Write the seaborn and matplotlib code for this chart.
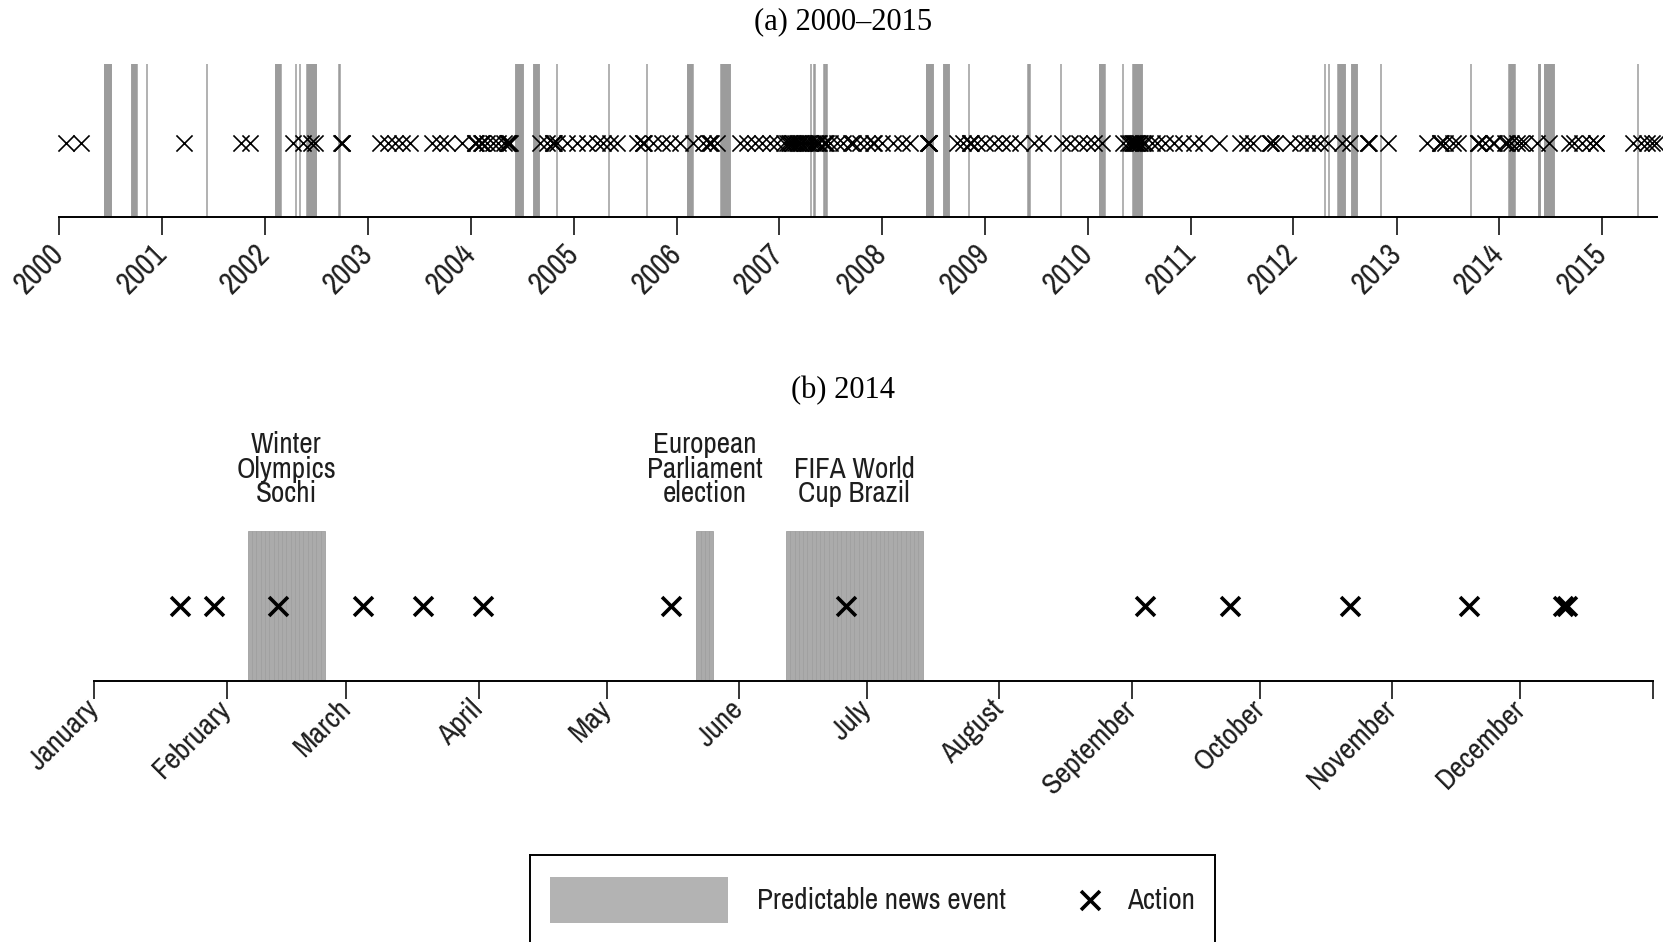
import matplotlib
matplotlib.use("Agg")
import matplotlib.pyplot as plt
import matplotlib.dates as mdates
from matplotlib import font_manager
from matplotlib.font_manager import FontProperties
from matplotlib.patches import Rectangle
import numpy as np
import pandas as pd
import seaborn as sns

# ---------------- data ----------------
# Predictable news events 2000-2015 (first and last day, inclusive)
event_start = [
    "2000-06-10", "2000-09-15", "2000-11-07", "2001-06-07", "2002-02-08",
    "2002-04-21", "2002-05-05", "2002-05-31", "2002-09-22", "2004-06-10",
    "2004-08-13", "2004-11-02", "2005-05-05", "2005-09-18", "2006-02-10",
    "2006-06-09", "2007-04-22", "2007-05-06", "2007-06-10", "2007-06-17",
    "2008-06-07", "2008-08-08", "2008-11-04", "2009-06-04", "2009-09-27",
    "2010-02-12", "2010-05-06", "2010-06-11", "2012-04-22", "2012-05-06",
    "2012-06-08", "2012-07-27", "2012-11-06", "2013-09-22", "2014-02-06",
    "2014-05-22", "2014-06-12", "2015-05-07",
]
event_end = [
    "2000-07-02", "2000-10-01", "2000-11-07", "2001-06-07", "2002-02-24",
    "2002-04-21", "2002-05-05", "2002-06-30", "2002-09-22", "2004-07-04",
    "2004-08-29", "2004-11-02", "2005-05-05", "2005-09-18", "2006-02-26",
    "2006-07-09", "2007-04-22", "2007-05-06", "2007-06-10", "2007-06-17",
    "2008-06-29", "2008-08-24", "2008-11-04", "2009-06-07", "2009-09-27",
    "2010-02-28", "2010-05-06", "2010-07-11", "2012-04-22", "2012-05-06",
    "2012-07-01", "2012-08-12", "2012-11-06", "2013-09-22", "2014-02-23",
    "2014-05-25", "2014-07-13", "2015-05-07",
]

# Events of 2014 with their captions
events_2014_start = ["2014-02-06", "2014-05-22", "2014-06-12"]
events_2014_end = ["2014-02-23", "2014-05-25", "2014-07-13"]
events_2014_label = ["Winter\nOlympics\nSochi",
                     "European\nParliament\nelection",
                     "FIFA World\nCup Brazil"]

# Action dates
actions_2000_2013 = [
    "2000-01-24", "2000-03-17",
    "2001-03-20", "2001-10-09", "2001-11-08",
    "2002-04-11", "2002-05-17", "2002-06-12", "2002-06-27", "2002-09-28",
    "2002-09-30", "2002-10-02",
    "2003-02-13", "2003-03-15", "2003-04-07", "2003-05-01", "2003-05-31",
    "2003-08-17", "2003-09-14", "2003-10-09", "2003-11-30",
    "2004-01-15", "2004-01-17", "2004-01-19", "2004-02-07", "2004-02-09",
    "2004-02-11", "2004-02-27", "2004-03-21", "2004-04-08", "2004-04-27",
    "2004-05-09", "2004-05-11", "2004-05-13", "2004-05-17", "2004-05-21",
    "2004-09-03", "2004-09-27", "2004-10-18", "2004-10-20", "2004-10-22",
    "2004-11-02", "2004-12-07",
    "2005-01-12", "2005-02-16", "2005-03-24", "2005-04-16", "2005-05-10",
    "2005-06-03", "2005-08-13", "2005-09-03", "2005-09-05", "2005-09-07",
    "2005-10-11", "2005-11-10", "2005-12-09",
    "2006-01-14", "2006-03-02", "2006-04-06", "2006-04-28", "2006-04-30",
    "2006-05-02", "2006-05-24", "2006-08-15", "2006-09-08", "2006-10-07",
    "2006-10-31", "2006-11-29", "2006-12-23",
    "2007-01-16", "2007-01-28", "2007-02-04", "2007-02-09", "2007-02-16",
    "2007-02-20", "2007-02-24", "2007-03-04", "2007-03-09", "2007-03-14",
    "2007-03-20", "2007-03-28", "2007-04-05", "2007-04-13", "2007-04-21",
    "2007-05-01", "2007-05-07", "2007-05-14", "2007-05-18", "2007-05-22",
    "2007-06-07", "2007-06-11", "2007-06-15", "2007-07-01", "2007-07-24",
    "2007-08-17", "2007-09-12", "2007-09-18", "2007-10-15", "2007-11-08",
    "2007-11-28", "2007-12-04", "2007-12-30",
    "2008-02-10", "2008-03-11", "2008-04-10", "2008-06-12", "2008-06-13",
    "2008-06-14", "2008-06-15", "2008-06-16", "2008-09-22", "2008-10-16",
    "2008-11-07", "2008-11-09", "2008-11-11", "2008-12-03",
    "2009-01-01", "2009-01-31", "2009-03-01", "2009-03-31", "2009-05-05",
    "2009-06-22", "2009-07-27", "2009-10-01", "2009-10-30", "2009-11-29",
    "2009-12-28",
    "2010-01-21", "2010-02-20", "2010-05-07", "2010-05-25", "2010-05-31",
    "2010-06-06", "2010-06-10", "2010-06-14", "2010-06-18", "2010-06-22",
    "2010-06-26", "2010-07-01", "2010-07-06", "2010-07-14", "2010-07-23",
    "2010-08-16", "2010-09-03", "2010-10-02", "2010-11-01", "2010-12-06",
    "2011-01-11", "2011-02-15", "2011-04-10", "2011-06-26", "2011-07-20",
    "2011-08-12", "2011-10-08", "2011-10-10", "2011-10-12", "2011-10-28",
    "2011-12-20",
    "2012-01-25", "2012-02-18", "2012-03-12", "2012-04-05", "2012-05-04",
    "2012-06-21", "2012-07-20", "2012-09-21", "2012-09-23", "2012-09-25",
    "2012-12-03",
    "2013-04-19", "2013-06-03", "2013-06-05", "2013-06-07", "2013-06-23",
    "2013-07-22", "2013-08-09", "2013-10-17", "2013-10-19", "2013-10-21",
    "2013-11-12", "2013-12-10", "2013-12-14",
]
actions_2014 = [
    "2014-01-21", "2014-01-29", "2014-02-13", "2014-03-05", "2014-03-19",
    "2014-04-02", "2014-05-16", "2014-06-26", "2014-09-04", "2014-09-24",
    "2014-10-22", "2014-11-19", "2014-12-11", "2014-12-12",
]
actions_2015 = ["2015-04-21", "2015-05-20", "2015-06-11", "2015-06-29",
                "2015-07-13"]

year_labels = ["2000", "2001", "2002", "2003", "2004", "2005", "2006", "2007",
               "2008", "2009", "2010", "2011", "2012", "2013", "2014", "2015"]
month_labels = ["January", "February", "March", "April", "May", "June",
                "July", "August", "September", "October", "November",
                "December"]
panel_titles = ["(a) 2000\u20132015", "(b) 2014"]
legend_labels = ["Predictable news event", "Action"]

# ---------------- style ----------------
sns.set_theme(style="white")
plt.rcParams["font.family"] = ["Liberation Sans", "DejaVu Sans"]
SERIF = ["Liberation Serif", "DejaVu Serif"]


def find_narrow_sans():
    """Regular-weight narrow/condensed sans face, if one is installed."""
    entries = font_manager.fontManager.ttflist

    def regular(f):
        return f.style == "normal" and str(f.weight) in ("400", "normal",
                                                         "regular", "book")

    def plain_sans(f):
        return not any(k in f.name for k in ("Serif", "Mono", "Extra",
                                             "Ultra", "Semi", "CJK"))

    tests = [
        lambda f: f.name == "Liberation Sans Narrow",
        lambda f: "Narrow" in f.name and plain_sans(f),
        lambda f: "Condensed" in f.name and plain_sans(f),
        lambda f: str(f.stretch) == "condensed" and plain_sans(f),
    ]
    for test in tests:
        found = sorted(f.fname for f in entries if test(f) and regular(f))
        if found:
            return found[0]
    return None


NARROW = find_narrow_sans()


def sans(size):
    if NARROW is not None:
        return FontProperties(fname=NARROW, size=size)
    # Arial Narrow is ~82% the width of Arial: keep the text widths
    return FontProperties(family=["Liberation Sans", "DejaVu Sans"],
                          size=size * 0.84)


FILL = "#B3B3B3"
TEXT = "#1e1e1e"

W, H = 1663, 942
fig = plt.figure(figsize=(W / 100, H / 100), dpi=100)


def frac_box(x0, y_top, x1, y_bot):
    return [x0 / W, 1 - y_bot / H, (x1 - x0) / W, (y_bot - y_top) / H]


ax_top = fig.add_axes(frac_box(59.3, 64, 1656.7, 216.7))
ax_bot = fig.add_axes(frac_box(94.2, 530.7, 1652.8, 680.7))


def day_bars(ax, starts, ends, face, edge, lw):
    """One bar per day of every event, as in a daily calendar."""
    days = []
    for s, e in zip(starts, ends):
        days.extend(pd.date_range(s, e, freq="D"))
    x = mdates.date2num(pd.DatetimeIndex(days).to_pydatetime())
    ax.bar(x, 1.0, width=1.0, bottom=0, align="edge", color=face,
           edgecolor=edge, linewidth=lw, zorder=1)


def to_num(dates):
    return mdates.date2num(pd.to_datetime(dates).to_pydatetime())


def style_axis(ax, label_size, label_pad):
    for side in ("top", "left", "right"):
        ax.spines[side].set_visible(False)
    ax.spines["bottom"].set_color("black")
    ax.spines["bottom"].set_linewidth(1.4)
    ax.set_ylim(0, 1)
    ax.set_yticks([])
    ax.set_xlabel("")
    ax.set_ylabel("")
    ax.tick_params(axis="x", bottom=True, direction="out", length=13,
                   width=1.1, color="black", pad=label_pad, labelcolor=TEXT)
    for lab in ax.get_xticklabels():
        lab.set_fontproperties(sans(label_size))
        lab.set_rotation(45)
        lab.set_ha("right")
        lab.set_va("center")
        lab.set_rotation_mode("anchor")


# ---------------- (a) 2000-2015 ----------------
day_bars(ax_top, event_start, event_end, FILL, "#9C9C9C", 1.1)
top_actions = pd.DataFrame({
    "date": to_num(actions_2000_2013 + actions_2014 + actions_2015),
    "level": 0.48,
})
sns.scatterplot(data=top_actions, x="date", y="level", marker="x", s=135,
                color="black", linewidth=1.2, ax=ax_top, legend=False,
                clip_on=False, zorder=3)
ax_top.set_xlim(to_num(["2000-01-01"])[0], to_num(["2015-07-14"])[0])
ax_top.set_xticks(to_num(pd.to_datetime(year_labels, format="%Y")))
ax_top.set_xticklabels(year_labels)
style_axis(ax_top, 22, 10)

# ---------------- (b) 2014 ----------------
day_bars(ax_bot, events_2014_start, events_2014_end, "#ABABAB", "#A0A0A0",
         0.6)
bot_actions = pd.DataFrame({"date": to_num(actions_2014), "level": 0.5})
sns.scatterplot(data=bot_actions, x="date", y="level", marker="x", s=185,
                color="black", linewidth=2.6, ax=ax_bot, legend=False,
                zorder=3)
month_starts = pd.date_range("2014-01-01", "2015-01-01", freq="MS")
ax_bot.set_xlim(to_num(["2014-01-01"])[0], to_num(["2015-01-01"])[0])
ax_bot.set_xticks(to_num(month_starts))
ax_bot.set_xticklabels(month_labels + [""])
style_axis(ax_bot, 21.5, 4)

for s, e, lab in zip(events_2014_start, events_2014_end, events_2014_label):
    mid = (to_num([s])[0] + to_num([e])[0] + 1) / 2
    ax_bot.text(mid, 1.158, lab, ha="center", va="bottom",
                fontproperties=sans(21), linespacing=0.88, color=TEXT,
                clip_on=False)

# ---------------- titles ----------------
fig.text(843 / W, 1 - 22 / H, panel_titles[0], ha="center", va="center",
         family=SERIF, fontsize=22, color="black")
fig.text(843 / W, 1 - 391 / H, panel_titles[1], ha="center", va="center",
         family=SERIF, fontsize=22, color="black")

# ---------------- legend ----------------
lax = fig.add_axes(frac_box(529.8, 855, 1214.8, 945))
lax.set_xlim(0, 685)
lax.set_ylim(0, 90)
for sp in lax.spines.values():
    sp.set_visible(True)
    sp.set_color("black")
    sp.set_linewidth(1.4)
lax.add_patch(Rectangle((19.8, 22), 178.6, 46, facecolor=FILL,
                        edgecolor="none"))
lax.text(227, 45, legend_labels[0], ha="left", va="center",
         fontproperties=sans(21), color=TEXT)
sns.scatterplot(x=[560.0], y=[45.0], marker="x", s=185, color="black",
                linewidth=2.6, ax=lax, legend=False)
lax.text(597, 45, legend_labels[1], ha="left", va="center",
         fontproperties=sans(21), color=TEXT)
lax.set_xticks([])
lax.set_yticks([])
lax.set_xlabel("")
lax.set_ylabel("")

fig.savefig("out.png", dpi=100, facecolor="white")
